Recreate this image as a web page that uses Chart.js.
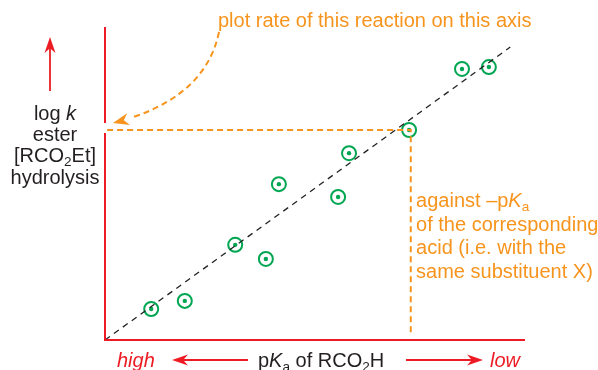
<!DOCTYPE html>
<html>
<head>
<meta charset="utf-8">
<script src="https://cdn.jsdelivr.net/npm/chart.js@4/dist/chart.umd.min.js"></script>
<style>
  body { margin: 0; background: #fff; }
  #wrap { width: 598px; height: 370px; }
</style>
</head>
<body>
<div id="wrap"><canvas id="grafico"></canvas></div>
<script>
// -pKa of the acid (arbitrary units) and log k of ester hydrolysis
var pKaNeg = [1.10, 1.90, 3.10, 3.83, 4.14, 5.55, 5.81, 7.24, 8.50, 9.14];
var logK = [0.99, 1.25, 3.04, 2.59, 4.98, 4.57, 5.97, 6.71, 8.66, 8.72];
// best straight line through the points
var fitX = [0, 9.65];
var fitY = [0, 9.36];
// the point picked out by the orange guide lines
var guideIdx = 7;
var guideFloor = 0.19;

var RED = '#ed1c24';
var ORANGE = '#f7941d';
var GREEN = '#00a651';
var INK = '#231f20';
var FONT = '"Liberation Sans", Arial, sans-serif';

function pts(xs, ys) {
    var out = [];
    for (var i = 0; i < xs.length; i++) {
        out.push({x: xs[i], y: ys[i]});
    }
    return out;
}

function lineSet(data, color, width, dash) {
    return {
        type: 'line', data: data, borderColor: color, borderWidth: width,
        borderDash: dash || [], pointRadius: 0, fill: false, clip: false, tension: 0
    };
}

var gx = pKaNeg[guideIdx], gy = logK[guideIdx];

// text pieces: {t, it (italic), sub}
function runsWidth(ctx, runs, size) {
    var w = 0;
    runs.forEach(function (r) {
        ctx.font = (r.it ? 'italic ' : '') + (r.sub ? size * 0.68 : size) + 'px ' + FONT;
        w += ctx.measureText(r.t).width;
    });
    return w;
}
function drawRuns(ctx, runs, x, y, size, align, color) {
    var w = runsWidth(ctx, runs, size);
    var cx = align === 'center' ? x - w / 2 : x;
    ctx.fillStyle = color;
    ctx.textBaseline = 'alphabetic';
    ctx.textAlign = 'left';
    runs.forEach(function (r) {
        ctx.font = (r.it ? 'italic ' : '') + (r.sub ? size * 0.68 : size) + 'px ' + FONT;
        ctx.fillText(r.t, cx, y + (r.sub ? size * 0.22 : 0));
        cx += ctx.measureText(r.t).width;
    });
}

function arrowHead(ctx, x, y, ang, len, half, color) {
    ctx.save();
    ctx.translate(x, y);
    ctx.rotate(ang);
    ctx.fillStyle = color;
    ctx.beginPath();
    ctx.moveTo(0, 0);
    ctx.lineTo(-len, -half);
    ctx.lineTo(-len * 0.7, 0);
    ctx.lineTo(-len, half);
    ctx.closePath();
    ctx.fill();
    ctx.restore();
}

function arrow(ctx, x1, y1, x2, y2, color) {
    var ang = Math.atan2(y2 - y1, x2 - x1);
    ctx.save();
    ctx.strokeStyle = color;
    ctx.lineWidth = 1.8;
    ctx.beginPath();
    ctx.moveTo(x1, y1);
    ctx.lineTo(x2 - Math.cos(ang) * 10, y2 - Math.sin(ang) * 10);
    ctx.stroke();
    ctx.restore();
    arrowHead(ctx, x2, y2, ang, 16, 5.5, color);
}

var rotulos = {
    id: 'rotulos',
    afterDraw: function (chart) {
        var ctx = chart.ctx;
        var a = chart.chartArea;
        var sx = chart.scales.x, sy = chart.scales.y;
        var size = 20;
        var colX = a.left - 50;

        ctx.save();
        // y axis caption
        arrow(ctx, colX - 5, a.top + 64, colX - 5, a.top + 10, RED);
        drawRuns(ctx, [{t: 'log '}, {t: 'k', it: true}], colX, a.top + 93, size, 'center', INK);
        drawRuns(ctx, [{t: 'ester'}], colX, a.top + 114, size, 'center', INK);
        drawRuns(ctx, [{t: '[RCO'}, {t: '2', sub: true}, {t: 'Et]'}], colX, a.top + 135, size, 'center', INK);
        drawRuns(ctx, [{t: 'hydrolysis'}], colX, a.top + 157, size, 'center', INK);

        // x axis caption
        var by = a.bottom + 27;
        drawRuns(ctx, [{t: 'high', it: true}], a.left + 12, by, size, 'left', RED);
        arrow(ctx, a.left + 143, by - 7, a.left + 67, by - 7, RED);
        drawRuns(ctx, [{t: 'p'}, {t: 'K', it: true}, {t: 'a', sub: true}, {t: ' of RCO'}, {t: '2', sub: true}, {t: 'H'}],
            a.left + 153, by, size, 'left', INK);
        arrow(ctx, a.left + 301, by - 7, a.left + 378, by - 7, RED);
        drawRuns(ctx, [{t: 'low', it: true}], a.left + 385, by, size, 'left', RED);

        // note at the top with curved arrow to the y axis
        drawRuns(ctx, [{t: 'plot rate of this reaction on this axis'}], a.left + 113, 27, size, 'left', ORANGE);
        var p0 = {x: a.left + 114, y: 32}, c = {x: a.left + 100, y: 100}, p1 = {x: a.left + 8, y: sy.getPixelForValue(gy) - 7};
        ctx.strokeStyle = ORANGE;
        ctx.lineWidth = 2;
        ctx.setLineDash([6, 4]);
        ctx.beginPath();
        ctx.moveTo(p0.x, p0.y);
        var t = 0.88;
        // stop the dashed curve short of the head
        var ex = (1 - t) * (1 - t) * p0.x + 2 * (1 - t) * t * c.x + t * t * p1.x;
        var ey = (1 - t) * (1 - t) * p0.y + 2 * (1 - t) * t * c.y + t * t * p1.y;
        var qx = (1 - t) * p0.x + t * c.x, qy = (1 - t) * p0.y + t * c.y;
        ctx.quadraticCurveTo(qx, qy, ex, ey);
        ctx.stroke();
        ctx.setLineDash([]);
        arrowHead(ctx, p1.x, p1.y, Math.atan2(p1.y - c.y, p1.x - c.x), 16, 6, ORANGE);

        // note beside the vertical guide
        var nx = sx.getPixelForValue(gx) + 7;
        var ny = 207;
        drawRuns(ctx, [{t: 'against –p'}, {t: 'K', it: true}, {t: 'a', sub: true}], nx, ny, size, 'left', ORANGE);
        drawRuns(ctx, [{t: 'of the corresponding'}], nx, ny + 23.5, size, 'left', ORANGE);
        drawRuns(ctx, [{t: 'acid (i.e. with the'}], nx, ny + 47, size, 'left', ORANGE);
        drawRuns(ctx, [{t: 'same substituent X)'}], nx, ny + 70.5, size, 'left', ORANGE);
        ctx.restore();
    }
};

var chartGraph = new Chart(document.getElementById('grafico'), {
    type: 'scatter',
    data: {
        datasets: [
            // axes
            lineSet([{x: 0, y: 10}, {x: 0, y: 6.93}], RED, 2),
            lineSet([{x: 0, y: 6.61}, {x: 0, y: 0}, {x: 10, y: 0}], RED, 2),
            // guide lines
            lineSet([{x: 0.05, y: gy}, {x: gx + 0.04, y: gy}, {x: gx + 0.04, y: guideFloor}], ORANGE, 2, [6, 4]),
            // fitted line
            lineSet(pts(fitX, fitY), '#222', 1.3, [6, 5]),
            // data points: ring with a dot in the middle
            {
                data: pts(pKaNeg, logK), pointRadius: 7, pointBorderWidth: 2,
                pointBorderColor: GREEN, pointBackgroundColor: 'rgba(255,255,255,0)', clip: false
            },
            {
                data: pts(pKaNeg, logK), pointRadius: 2.2, pointBorderWidth: 0,
                pointBackgroundColor: GREEN, clip: false
            }
        ]
    },
    options: {
        responsive: true,
        maintainAspectRatio: false,
        animation: false,
        layout: {padding: {left: 105, right: 73, top: 27, bottom: 30}},
        plugins: {legend: {display: false}, tooltip: {enabled: false}},
        scales: {
            x: {type: 'linear', min: 0, max: 10, display: false},
            y: {type: 'linear', min: 0, max: 10, display: false}
        }
    },
    plugins: [rotulos]
});
</script>
</body>
</html>
